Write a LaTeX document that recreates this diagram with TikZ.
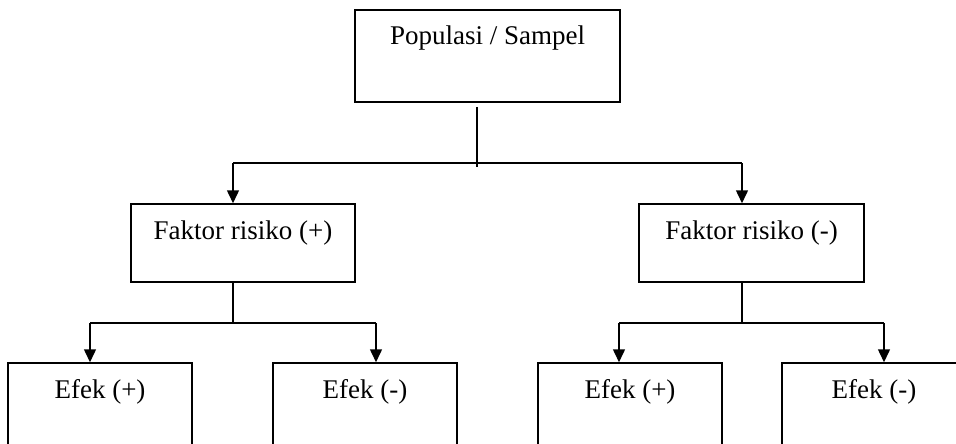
\documentclass[tikz,border=0pt]{standalone}
\usepackage{fontspec}
\setmainfont{Liberation Serif}
\usetikzlibrary{arrows.meta}
\tikzset{
  box/.style={draw=black, line width=1.5pt, rectangle, inner sep=0pt},
  lbl/.style={inner sep=0pt, font=\fontsize{27}{32}\selectfont},
  link/.style={draw=black, line width=1.5pt},
  arr/.style={link, -{Triangle[length=13pt,width=12pt]}}
}
\begin{document}
\begin{tikzpicture}[x=1pt,y=-1pt]
\useasboundingbox (0,0) rectangle (956,444);
\clip (0,0) rectangle (956,444);
% boxes
\node[box, minimum width=265pt, minimum height=92pt] (pop) at (487.5,56) {};
\node[box, minimum width=224pt, minimum height=78pt] (fp) at (243,243) {};
\node[box, minimum width=225pt, minimum height=78pt] (fm) at (751.5,243) {};
\node[box, minimum width=184pt, minimum height=117pt] (e1) at (100,421.5) {};
\node[box, minimum width=184pt, minimum height=117pt] (e2) at (365,421.5) {};
\node[box, minimum width=184pt, minimum height=117pt] (e3) at (630,421.5) {};
\node[box, minimum width=184pt, minimum height=117pt] (e4) at (874,421.5) {};
% labels
\node[lbl, anchor=base] (popt) at (487.5,45) {Populasi / Sampel};
\node[lbl, anchor=base] (fpt) at (243,239) {Faktor risiko (+)};
\node[lbl, anchor=base] (fmt) at (751.5,239) {Faktor risiko (-)};
\node[lbl, anchor=base] (e1t) at (100,398) {Efek (+)};
\node[lbl, anchor=base] (e2t) at (365,398) {Efek (-)};
\node[lbl, anchor=base] (e3t) at (630,398) {Efek (+)};
\node[lbl, anchor=base] (e4t) at (874,398) {Efek (-)};
% junction coordinates
\coordinate (top) at (477,167);
\coordinate (cL) at (233,163);
\coordinate (cR) at (742,163);
\coordinate (dL) at (233,323);
\coordinate (dLl) at (90,323);
\coordinate (dLr) at (376,323);
\coordinate (dR) at (742,323);
\coordinate (dRl) at (619,323);
\coordinate (dRr) at (884,323);
% connectors
\draw[link] ([yshift=-4pt]pop.south -| top) -- (top);
\draw[link] (cL) -- (cR);
\draw[arr] (cL) -- (cL |- fp.north);
\draw[arr] (cR) -- (cR |- fm.north);
\draw[link] (fp.south -| dL) -- (dL);
\draw[link] (dLl) -- (dLr);
\draw[arr] (dLl) -- (dLl |- e1.north);
\draw[arr] (dLr) -- (dLr |- e2.north);
\draw[link] (fm.south -| dR) -- (dR);
\draw[link] (dRl) -- (dRr);
\draw[arr] (dRl) -- (dRl |- e3.north);
\draw[arr] (dRr) -- (dRr |- e4.north);
\end{tikzpicture}
\end{document}
